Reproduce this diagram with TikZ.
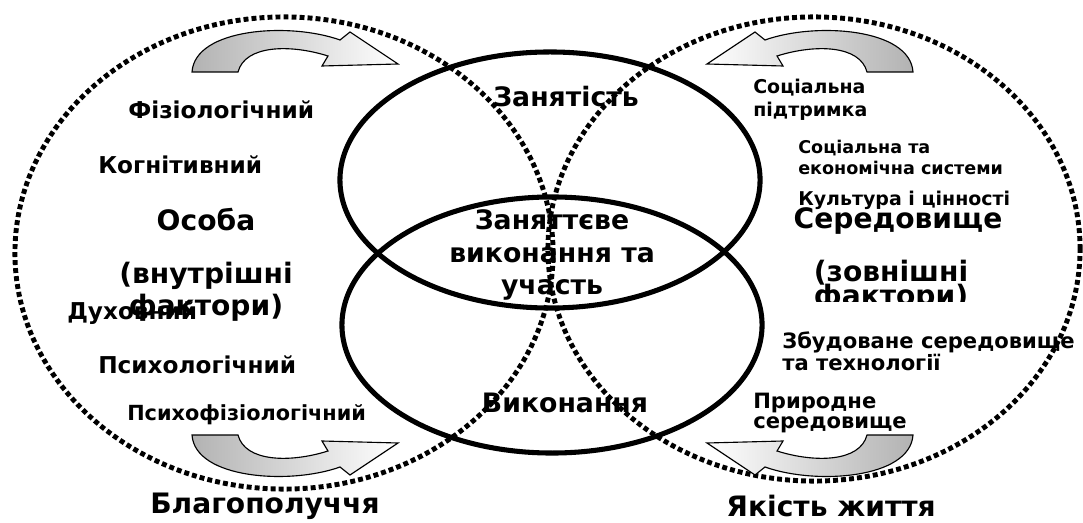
\documentclass[tikz,border=0pt]{standalone}
\usepackage{fontspec}
\setmainfont{DejaVu Sans}

\begin{document}
\begin{tikzpicture}[
  x=0.025cm, y=-0.025cm,
  lbl/.style={font=\bfseries\fontsize{16.5}{19}\selectfont, inner sep=0pt, anchor=west},
  big/.style={font=\bfseries\fontsize{20}{23.4}\selectfont, inner sep=0pt, align=center},
  mid/.style={font=\bfseries\fontsize{19}{23}\selectfont, inner sep=0pt, align=center},
  env/.style={font=\bfseries\fontsize{13.5}{16}\selectfont, inner sep=0pt, align=left, anchor=west},
  envbig/.style={env, font=\bfseries\fontsize{15}{14.5}\selectfont},
  ring/.style={line width=3.5pt, dash pattern=on 3.5pt off 2.2pt},
  core/.style={line width=3.6pt},
  bendarrow/.style={draw=black, line width=0.8pt, middle color=white}
]
\useasboundingbox (0,0) rectangle (1083,523);

% ── person side (left) ───────────────────────────────────────────────────
\node[lbl] (fiz) at (128,110) {Фізіологічний};
\node[lbl] (kog) at (98,165) {Когнітивний};
\node[big] (osoba) at (206,265) {Особа\\[14pt](внутрішні\\фактори)};
\node[lbl] (dukh) at (67,313) {Духовний};
\node[lbl] (psykh) at (98,365) {Психологічний};
\node[lbl, font=\bfseries\fontsize{14.8}{17}\selectfont] (psfiz) at (127,415) {Психофізіологічний};
\node[big] (blago) at (265,506) {Благополуччя};

% ── occupation (middle) ──────────────────────────────────────────────────
\node[mid] (zain) at (566,97) {Занятість};
\node[mid] (uchast) at (552,255) {Заняттєве\\виконання та\\участь};
\node[mid] (vykon) at (565,403) {Виконання};

% ── environment side (right) ─────────────────────────────────────────────
\node[env] (socp) at (753,100) {Соціальна\\підтримка};
\node[env, font=\bfseries\fontsize{12.5}{15}\selectfont] (soce) at (798,157) {Соціальна та\\економічна системи};
\node[env] (kult) at (798,200) {Культура і цінності};
\node[big] (sered) at (898,221) {Середовище};
\node[big] (zovn) at (891,273) {(зовнішні};
\begin{scope}
  \clip (780,280) rectangle (1000,302);
  \node[big, anchor=base] (fakt) at (891,306) {фактори)};
\end{scope}
\node[envbig] (zbud) at (782,351) {Збудоване середовище\\та технології};
\node[envbig] (pryr) at (753,413) {Природне\\середовище};
\node[big] (yakist) at (831,506) {Якість життя};

% ── circles ──────────────────────────────────────────────────────────────
\draw[core] (550,180) ellipse [x radius=5.25cm, y radius=3.2cm];
\draw[core] (552,325) ellipse [x radius=5.25cm, y radius=3.2cm];
\draw[ring] (284,253) ellipse [x radius=6.725cm, y radius=5.9cm];
\draw[ring] (814,249) ellipse [x radius=6.65cm, y radius=5.8cm];

% ── curved arrows ────────────────────────────────────────────────────────
\path[bendarrow, left color=black!30, right color=white]
  (192,72) .. controls (195,28) and (290,22) .. (340,40)
  -- (350,32) -- (398,64) -- (322,66) -- (328,56)
  .. controls (290,44) and (245,45) .. (238,72) -- cycle;
\path[bendarrow, left color=white, right color=black!30]
  (913,72) .. controls (910,28) and (815,22) .. (765,40)
  -- (755,32) -- (707,64) -- (783,66) -- (777,56)
  .. controls (815,44) and (860,45) .. (867,72) -- cycle;
\path[bendarrow, left color=black!30, right color=white]
  (192,435) .. controls (195,479) and (290,485) .. (340,467)
  -- (350,475) -- (398,443) -- (322,441) -- (328,451)
  .. controls (290,463) and (245,462) .. (238,435) -- cycle;
\path[bendarrow, left color=white, right color=black!30]
  (913,435) .. controls (910,479) and (815,485) .. (765,467)
  -- (755,475) -- (707,443) -- (783,441) -- (777,451)
  .. controls (815,463) and (860,462) .. (867,435) -- cycle;

\end{tikzpicture}
\end{document}
